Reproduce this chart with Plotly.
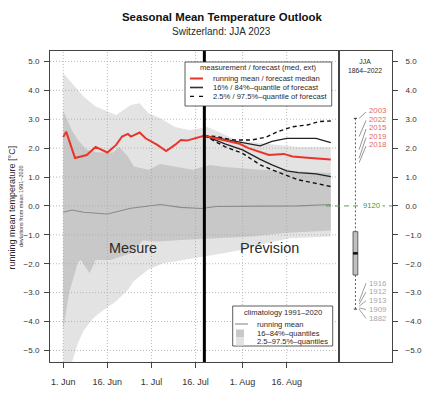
import plotly.graph_objects as go

# ---------------- data ----------------
YEAR = "2023-"

obs_dates = ["06-01", "06-02", "06-05", "06-07", "06-09", "06-12", "06-14", "06-16", "06-19",
             "06-21", "06-23", "06-24", "06-27", "06-29", "07-03", "07-06", "07-09", "07-11",
             "07-13", "07-16", "07-19"]
obs_vals = [2.38, 2.57, 1.66, 1.71, 1.76, 2.04, 1.94, 1.85, 2.11, 2.40, 2.49, 2.40, 2.54, 2.34,
            2.11, 1.90, 2.11, 2.28, 2.26, 2.34, 2.43]

fc_med_dates = ["07-19", "07-23", "07-26", "07-31", "08-03", "08-07", "08-10", "08-15", "08-18",
                "08-23", "08-27", "08-31"]
fc_med = [2.43, 2.34, 2.26, 2.15, 2.00, 1.85, 1.76, 1.80, 1.71, 1.67, 1.65, 1.61]

fc_q84_dates = ["07-19", "07-26", "08-02", "08-07", "08-11", "08-16", "08-20", "08-26", "08-31"]
fc_q84 = [2.43, 2.31, 2.19, 2.08, 2.23, 2.34, 2.34, 2.34, 2.19]

fc_q16_dates = ["07-19", "07-26", "08-01", "08-07", "08-11", "08-16", "08-20", "08-26", "08-31"]
fc_q16 = [2.43, 2.15, 1.94, 1.61, 1.42, 1.21, 1.15, 1.11, 1.01]

fc_q975_dates = ["07-19", "07-23", "07-29", "08-04", "08-09", "08-13", "08-18", "08-23", "08-27", "08-31"]
fc_q975 = [2.43, 2.40, 2.28, 2.28, 2.38, 2.57, 2.74, 2.80, 2.92, 2.94]

fc_q025_dates = ["07-19", "07-26", "08-01", "08-07", "08-11", "08-16", "08-20", "08-26", "08-31"]
fc_q025 = [2.43, 2.05, 1.82, 1.42, 1.25, 1.07, 0.90, 0.78, 0.67]

clim_mean_dates = ["06-01", "06-04", "06-08", "06-16", "06-24", "06-30", "07-04", "07-11", "07-18",
                   "07-23", "08-05", "08-20", "08-31"]
clim_mean = [-0.22, -0.14, -0.22, -0.28, -0.08, 0.0, 0.05, -0.05, -0.09, -0.02, 0.0, 0.0, 0.05]

light_top_dates = ["06-01", "06-03", "06-08", "06-12", "06-16", "06-19", "06-24", "06-27", "06-30",
                   "07-04", "07-09", "07-14", "07-20", "07-24", "07-30", "08-08", "08-20", "08-31"]
light_top = [4.59, 4.36, 3.78, 3.44, 3.26, 3.15, 3.49, 3.55, 3.21, 3.03, 2.73, 2.62, 2.73, 2.56,
             2.27, 2.16, 2.04, 2.04]
light_bot_dates = ["06-01", "06-03", "06-04", "06-06", "06-08", "06-11", "06-14", "06-19", "06-23",
                   "06-25", "06-30", "07-05", "07-11", "07-19", "07-26", "08-01", "08-09", "08-17",
                   "08-31"]
light_bot = [-6.5, -5.8, -5.4, -4.74, -4.3, -3.9, -3.65, -3.3, -2.9, -2.6, -2.2, -1.98, -1.87,
             -1.75, -1.63, -1.52, -1.29, -1.12, -1.06]

dark_top_dates = ["06-01", "06-04", "06-06", "06-09", "06-13", "06-18", "06-20", "06-23", "06-25",
                  "06-30", "07-04", "07-15", "07-21", "07-26", "08-07", "08-31"]
dark_top = [3.30, 2.60, 2.28, 1.94, 1.85, 1.85, 2.05, 1.71, 1.36, 1.25, 1.45, 1.25, 1.42, 1.35,
            1.25, 1.14]
dark_bot_dates = ["06-01", "06-03", "06-06", "06-07", "06-10", "06-12", "06-17", "06-24", "06-28",
                  "07-03", "07-11", "07-19", "07-26", "08-04", "08-15", "08-31"]
dark_bot = [-4.3, -3.0, -1.95, -1.87, -2.33, -1.87, -1.87, -1.64, -1.2, -1.23, -1.18, -1.12,
            -1.10, -1.06, -0.94, -0.85]

forecast_start = "07-19"

x_tick_dates = ["06-01", "06-16", "07-01", "07-16", "08-01", "08-16"]
x_tick_labels = ["1. Jun", "16. Jun", "1. Jul", "16. Jul", "1. Aug", "16. Aug"]
y_ticks = [-5, -4, -3, -2, -1, 0, 1, 2, 3, 4, 5]

# right panel: JJA 1864-2022 distribution
box_q1, box_median, box_q3 = -2.39, -1.64, -0.89
whisker_low, whisker_high = -3.57, 3.03
warm_years = ["2003", "2022", "2015", "2019", "2018"]
warm_vals = [3.03, 2.40, 1.95, 1.65, 1.50]
cold_years = ["1916", "1912", "1913", "1909", "1882"]
cold_vals = [-3.30, -3.40, -3.47, -3.53, -3.57]
current_value = 0.0
current_label = "9120"

# ---------------- layout helpers ----------------
# positions below are given in screen pixels; the page body adds an 8px offset
W, H = 440, 394
OFF = 8
SX0, SX1, SY0, SY1 = 50, 392, 51, 362      # plot region on screen (left, right, top, bottom)
L, T = SX0 - OFF, SY0 - OFF
R, B = W - (SX1 - OFF), H - (SY1 - OFF)
PW, PH = SX1 - SX0, SY1 - SY0


def px(x):
    return (x - SX0) / PW


def py(y):
    return (SY1 - y) / PH


def d(lst):
    return [YEAR + s for s in lst]


XR = ["2023-05-27 12:00", "2023-09-02 19:00"]
YR = [-5.4, 5.36]
FONT = "Liberation Sans, Arial, sans-serif"
RED = "#e8352b"
TXT = "#2a2a2a"
LIGHT, DARK = "#e3e3e3", "#c8c8c8"

fig = go.Figure()

# climatology bands
fig.add_trace(go.Scatter(x=d(light_top_dates) + d(light_bot_dates)[::-1],
                         y=light_top + light_bot[::-1], fill="toself", fillcolor=LIGHT,
                         line=dict(width=0), mode="lines", hoverinfo="skip", showlegend=False))
fig.add_trace(go.Scatter(x=d(dark_top_dates) + d(dark_bot_dates)[::-1],
                         y=dark_top + dark_bot[::-1], fill="toself", fillcolor=DARK,
                         line=dict(width=0), mode="lines", hoverinfo="skip", showlegend=False))

# dotted grid on top of bands
for tv in d(x_tick_dates):
    fig.add_trace(go.Scatter(x=[tv, tv], y=YR, mode="lines", hoverinfo="skip", showlegend=False,
                             line=dict(color="#a8a8a8", width=0.8, dash="1px,2px")))
for v in y_ticks:
    fig.add_trace(go.Scatter(x=XR, y=[v, v], mode="lines", hoverinfo="skip", showlegend=False,
                             line=dict(color="#a8a8a8", width=0.8, dash="1px,2px")))

# climatology running mean
fig.add_trace(go.Scatter(x=d(clim_mean_dates), y=clim_mean, mode="lines", showlegend=False,
                         line=dict(color="#8a8a8a", width=1.1)))

# forecast quantiles
for dts, vals in [(fc_q975_dates, fc_q975), (fc_q025_dates, fc_q025)]:
    fig.add_trace(go.Scatter(x=d(dts), y=vals, mode="lines", showlegend=False,
                             line=dict(color="#111", width=1.4, dash="4px,3px")))
for dts, vals in [(fc_q84_dates, fc_q84), (fc_q16_dates, fc_q16)]:
    fig.add_trace(go.Scatter(x=d(dts), y=vals, mode="lines", showlegend=False,
                             line=dict(color="#222", width=1.3)))
fig.add_trace(go.Scatter(x=d(fc_med_dates), y=fc_med, mode="lines", showlegend=False,
                         line=dict(color=RED, width=2)))
fig.add_trace(go.Scatter(x=d(obs_dates), y=obs_vals, mode="lines", showlegend=False,
                         line=dict(color=RED, width=2)))

# ---------------- right panel ----------------
BX, BHW, CHW = 0.31, 0.045, 0.03
fig.add_trace(go.Scatter(x=[BX, BX], y=[whisker_high, box_q3], xaxis="x2", yaxis="y2", mode="lines",
                         showlegend=False, line=dict(color="#333", width=0.8, dash="2px,2px")))
fig.add_trace(go.Scatter(x=[BX, BX], y=[box_q1, whisker_low], xaxis="x2", yaxis="y2", mode="lines",
                         showlegend=False, line=dict(color="#333", width=0.8, dash="2px,2px")))
for v in [whisker_high, whisker_low]:
    fig.add_trace(go.Scatter(x=[BX - CHW, BX + CHW], y=[v, v], xaxis="x2", yaxis="y2", mode="lines",
                             showlegend=False, line=dict(color="#333", width=1)))
fig.add_trace(go.Scatter(x=[BX - BHW, BX + BHW, BX + BHW, BX - BHW, BX - BHW],
                         y=[box_q1, box_q1, box_q3, box_q3, box_q1], xaxis="x2", yaxis="y2",
                         mode="lines", fill="toself", fillcolor="#c0c0c0", showlegend=False,
                         line=dict(color="#555", width=0.9)))
fig.add_trace(go.Scatter(x=[BX - BHW, BX + BHW], y=[box_median, box_median], xaxis="x2", yaxis="y2",
                         mode="lines", showlegend=False, line=dict(color="#111", width=2.5)))


def ann(x, y, text, size, color=TXT, xanchor="center", yanchor="middle", **kw):
    a = dict(x=x, y=y, text=text, showarrow=False, xanchor=xanchor, yanchor=yanchor,
             font=dict(size=size, color=color, family=FONT))
    a.setdefault("xref", "paper")
    a.setdefault("yref", "paper")
    a.update(kw)
    return a


annotations = []
LBL_X, LINE_X0, LINE_X1 = 0.53, 0.51, 0.38
top_lab = max(warm_vals) + 0.27
for i, (yr, v) in enumerate(zip(warm_years, warm_vals)):
    ly = top_lab - 0.295 * i
    fig.add_trace(go.Scatter(x=[LINE_X0, LINE_X1], y=[ly - 0.05, v], xaxis="x2", yaxis="y2",
                             mode="lines", showlegend=False, line=dict(color="#666", width=0.7)))
    annotations.append(ann(LBL_X, ly, yr, 7.8, "#e06a64", xanchor="left", xref="x2", yref="y2"))
bot_lab = min(cold_vals) - 0.32
for i, (yr, v) in enumerate(zip(cold_years, cold_vals)):
    ly = bot_lab + 0.305 * (len(cold_years) - 1 - i)
    fig.add_trace(go.Scatter(x=[LINE_X0, LINE_X1], y=[ly, v], xaxis="x2", yaxis="y2",
                             mode="lines", showlegend=False, line=dict(color="#777", width=0.7)))
    annotations.append(ann(LBL_X, ly, yr, 7.8, "#a8a8a8", xanchor="left", xref="x2", yref="y2"))

annotations.append(ann(0.62, current_value, current_label, 7.6, "#3d9a3d", xref="x2", yref="y2",
                       bgcolor="white", borderpad=2))
annotations.append(ann(px(365), py(66), "JJA<br>1864–2022", 6.8))

# ---------------- shapes ----------------
shapes = [
    dict(type="line", xref="x", yref="y domain", x0=YEAR + forecast_start, x1=YEAR + forecast_start,
         y0=0, y1=1, line=dict(color="black", width=3), layer="above"),
    dict(type="line", xref="paper", yref="y", x0=px(326), x1=1, y0=current_value, y1=current_value,
         line=dict(color="#3d9a3d", width=0.9, dash="5px,4px"), layer="above"),
    # legend 1
    dict(type="rect", xref="paper", yref="paper", x0=px(185), x1=px(331.7), y0=py(106), y1=py(62),
         fillcolor="white", line=dict(color="#333", width=0.8), layer="above"),
    dict(type="line", xref="paper", yref="paper", x0=px(190), x1=px(203), y0=py(78.5), y1=py(78.5),
         line=dict(color=RED, width=2), layer="above"),
    dict(type="line", xref="paper", yref="paper", x0=px(190), x1=px(203), y0=py(87.5), y1=py(87.5),
         line=dict(color="#333", width=1.6), layer="above"),
    dict(type="line", xref="paper", yref="paper", x0=px(190), x1=px(203), y0=py(96.3), y1=py(96.3),
         line=dict(color="#111", width=1.3, dash="4px,5px"), layer="above"),
    # legend 2
    dict(type="rect", xref="paper", yref="paper", x0=px(232.7), x1=px(332.7), y0=py(346), y1=py(306),
         fillcolor="white", line=dict(color="#333", width=0.8), layer="above"),
    dict(type="line", xref="paper", yref="paper", x0=px(235), x1=px(248), y0=py(324), y1=py(324),
         line=dict(color="#8a8a8a", width=1.1), layer="above"),
    dict(type="rect", xref="paper", yref="paper", x0=px(236), x1=px(244), y0=py(337.5), y1=py(329.5),
         fillcolor=DARK, line=dict(width=0), layer="above"),
    dict(type="rect", xref="paper", yref="paper", x0=px(236), x1=px(244), y0=py(345.5), y1=py(338),
         fillcolor=LIGHT, line=dict(width=0), layer="above"),
]

LEG = 7.6
for txt, yy in [("running mean / forecast median", 78.5), ("16% / 84%–quantile of forecast", 87.5),
                ("2.5% / 97.5%–quantile of forecast", 96.3)]:
    annotations.append(ann(px(211), py(yy), txt, LEG, xanchor="left"))
annotations.append(ann(px(258.3), py(67.7), "measurement / forecast (med, ext)", LEG))
annotations.append(ann(px(282.7), py(312.7), "climatology 1991–2020", LEG))
for txt, yy in [("running mean", 324), ("16–84%–quantiles", 333.3), ("2.5–97.5%–quantiles", 341.7)]:
    annotations.append(ann(px(254.5), py(yy), txt, LEG, xanchor="left"))

# titles and labels
annotations += [
    ann(px(221.5), py(17), "<b>Seasonal Mean Temperature Outlook</b>", 11.4, "#111"),
    ann(px(221.5), py(32), "Switzerland: JJA 2023", 10),
    ann(px(11.5), py(208), "running mean temperature [°C]", 9, textangle=-90),
    ann(px(21), py(206), "deviations from mean 1991–2020", 5.5, "#333", textangle=-90),
    ann(px(132.5), py(247.5), "Mesure", 14.4),
    ann(px(269.5), py(247.5), "Prévision", 14.4),
]

ytext = [f"{v:.1f}".replace("-", "−") for v in y_ticks]
ytickfont = dict(size=8, color="#333333", family=FONT)
xtickfont = dict(size=9, color="#333333", family=FONT)

fig.update_layout(
    width=W, height=H, margin=dict(l=L, r=R, t=T, b=B, autoexpand=False),
    paper_bgcolor="white", plot_bgcolor="white", showlegend=False,
    font=dict(family=FONT, color="#333333"),
    xaxis=dict(domain=[0, px(339)], range=XR, type="date", tickmode="array",
               tickvals=d(x_tick_dates), ticktext=x_tick_labels, ticks="outside", ticklen=5,
               tickcolor="#444", showline=True, mirror=True, linecolor="#444", linewidth=1,
               showgrid=False, zeroline=False, tickfont=xtickfont, ticklabelstandoff=6,
               automargin=False),
    yaxis=dict(range=YR, tickmode="array", tickvals=y_ticks, ticktext=ytext, ticks="outside",
               ticklen=5, tickcolor="#444", showline=True, mirror=True, linecolor="#444",
               linewidth=1, showgrid=False, zeroline=False, tickfont=ytickfont, ticklabelstandoff=3,
               automargin=False),
    xaxis2=dict(domain=[px(339), 1], range=[0, 1], anchor="y2", showline=True, mirror=True,
                linecolor="#444", linewidth=1, showticklabels=False, ticks="", showgrid=False,
                zeroline=False, automargin=False),
    yaxis2=dict(range=YR, anchor="x2", side="right", tickmode="array", tickvals=y_ticks,
                ticktext=ytext, ticks="outside", ticklen=5, tickcolor="#444", showline=True,
                mirror=True, linecolor="#444", linewidth=1, showgrid=False, zeroline=False,
                tickfont=ytickfont, ticklabelstandoff=6, automargin=False),
    shapes=shapes, annotations=annotations,
)

fig.write_html("out.html")
